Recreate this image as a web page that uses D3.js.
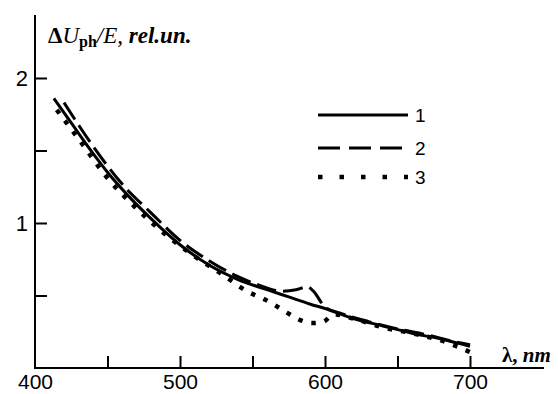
<!DOCTYPE html>
<html>
<head>
<meta charset="utf-8">
<script src="https://cdn.jsdelivr.net/npm/d3@7"></script>
<style>
  body { margin: 0; background: #fff; }
  svg { display: block; }
  .axis text { font-family: "Liberation Sans", Arial, sans-serif; font-size: 21px; fill: #000; }
  .axis line { stroke: #000; stroke-width: 2px; }
</style>
</head>
<body>
<svg id="chart" width="558" height="394"></svg>
<script>
// curve 1 (solid)
const lambda1 = [413, 425, 440, 450, 465, 480, 500, 520, 540, 560, 575, 590, 600, 620, 640, 660, 680, 700];
const values1 = [1.86, 1.69, 1.48, 1.35, 1.18, 1.03, 0.85, 0.71, 0.61, 0.54, 0.49, 0.44, 0.41, 0.34, 0.29, 0.24, 0.20, 0.15];

// curve 2 (dashed)
const lambda2 = [420, 440, 460, 480, 500, 520, 540, 555, 570, 580, 588, 592, 600, 610, 630, 650, 670, 690, 700];
const values2 = [1.83, 1.53, 1.27, 1.07, 0.88, 0.74, 0.63, 0.57, 0.53, 0.54, 0.56, 0.53, 0.42, 0.38, 0.32, 0.27, 0.23, 0.18, 0.16];

// curve 3 (dotted)
const lambda3 = [415, 430, 450, 470, 490, 510, 530, 546, 557, 566, 574, 583, 591, 599, 606, 620, 640, 660, 680, 700];
const values3 = [1.78, 1.58, 1.31, 1.10, 0.92, 0.77, 0.64, 0.53, 0.48, 0.43, 0.38, 0.33, 0.31, 0.32, 0.37, 0.34, 0.28, 0.24, 0.19, 0.11];

const xTicks = [400, 450, 500, 550, 600, 650, 700];
const yTicks = [0.5, 1, 1.5, 2];
const legendLabels = ["1", "2", "3"];

const svg = d3.select("#chart");

const x = d3.scaleLinear().domain([400, 700]).range([35, 470]);
const y = d3.scaleLinear().domain([0, 2]).range([368, 78]);

// axes lines
svg.append("line")
    .attr("x1", x(400)).attr("x2", 544)
    .attr("y1", y(0)).attr("y2", y(0))
    .attr("stroke", "#000").attr("stroke-width", 2);
svg.append("line")
    .attr("x1", x(400)).attr("x2", x(400))
    .attr("y1", y(0) + 1).attr("y2", 15)
    .attr("stroke", "#000").attr("stroke-width", 2);

const xAxis = svg.append("g")
    .attr("class", "axis")
    .attr("transform", `translate(0,${y(0)})`)
    .call(d3.axisBottom(x)
        .tickValues(xTicks)
        .tickSizeInner(-12)
        .tickSizeOuter(0)
        .tickPadding(6)
        .tickFormat(d => d % 100 === 0 ? d : ""));
xAxis.select(".domain").remove();
xAxis.selectAll(".tick").filter(d => d === 400).select("line").remove();

const yAxis = svg.append("g")
    .attr("class", "axis")
    .attr("transform", `translate(${x(400)},0)`)
    .call(d3.axisLeft(y)
        .tickValues(yTicks)
        .tickSizeInner(-12)
        .tickSizeOuter(0)
        .tickPadding(7)
        .tickFormat(d => d % 1 === 0 ? d : ""));
yAxis.select(".domain").remove();
yAxis.selectAll("text").style("font-size", "22px");

// curves
const styles = [
    {dash: null, width: 3},
    {dash: "20,7", width: 3},
    {dash: "4.5,9", width: 4.5}
];
const series = [
    d3.zip(lambda1, values1),
    d3.zip(lambda2, values2),
    d3.zip(lambda3, values3)
];

const line = d3.line()
    .x(d => x(d[0]))
    .y(d => y(d[1]))
    .curve(d3.curveMonotoneX);

svg.selectAll("path.curve")
    .data(series)
    .enter().append("path")
    .attr("class", "curve")
    .attr("d", line)
    .attr("fill", "none")
    .attr("stroke", "#000")
    .attr("stroke-width", (d, i) => styles[i].width)
    .attr("stroke-dasharray", (d, i) => styles[i].dash);

// legend
const legendDash = [null, "22,9", "4.5,17"];
const legendY = [115, 148, 177];
const legend = svg.append("g");
legendLabels.forEach((lab, i) => {
    legend.append("line")
        .attr("x1", 318).attr("x2", 408)
        .attr("y1", legendY[i]).attr("y2", legendY[i])
        .attr("stroke", "#000")
        .attr("stroke-width", i === 2 ? 4.5 : 3)
        .attr("stroke-dasharray", legendDash[i]);
    legend.append("text")
        .attr("x", 415)
        .attr("y", legendY[i] + 7)
        .style("font-family", "'Liberation Sans', Arial, sans-serif")
        .style("font-size", "19px")
        .text(lab);
});

// axis titles
const yTitle = svg.append("text")
    .attr("x", 48).attr("y", 43)
    .style("font-family", "'Liberation Serif', 'Times New Roman', serif")
    .style("font-size", "23px");
yTitle.append("tspan").style("font-weight", "bold").text("Δ");
yTitle.append("tspan").style("font-style", "italic").text("U");
yTitle.append("tspan").style("font-weight", "bold").style("font-size", "16px")
    .attr("dy", 4).text("ph");
yTitle.append("tspan").style("font-style", "italic").attr("dy", -4).text("/E, ");
yTitle.append("tspan").style("font-style", "italic").style("font-weight", "bold").text("rel.un.");

const xTitle = svg.append("text")
    .attr("x", 502).attr("y", 362)
    .style("font-family", "'Liberation Serif', 'Times New Roman', serif")
    .style("font-size", "21px");
xTitle.append("tspan").style("font-weight", "bold").text("λ, ");
xTitle.append("tspan").style("font-style", "italic").style("font-weight", "bold").text("nm");
</script>
</body>
</html>
